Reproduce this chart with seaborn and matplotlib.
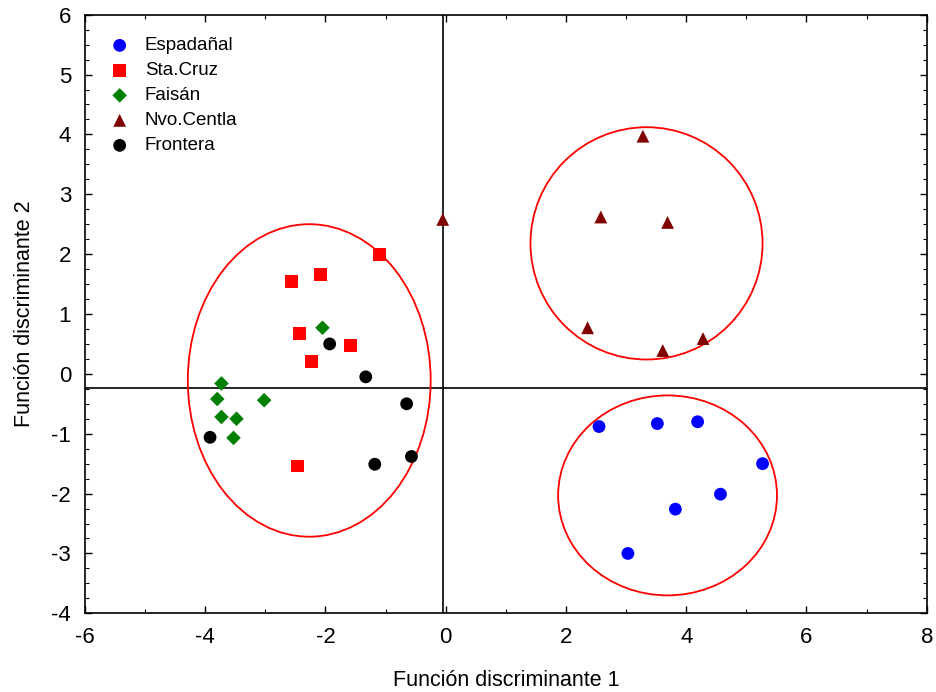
import matplotlib
matplotlib.use("Agg")
import matplotlib.pyplot as plt
from matplotlib.patches import Ellipse
from matplotlib.ticker import MultipleLocator
import seaborn as sns
import pandas as pd

# ---- data ----
groups = ["Espadañal", "Sta.Cruz", "Faisán", "Nvo.Centla", "Frontera"]

esp_x = [2.55, 3.52, 4.19, 5.27, 4.57, 3.82, 3.03]
esp_y = [-0.88, -0.83, -0.80, -1.50, -2.01, -2.26, -3.00]

stc_x = [-1.10, -2.08, -2.56, -2.43, -1.58, -2.23, -2.46]
stc_y = [2.00, 1.66, 1.54, 0.68, 0.48, 0.20, -1.54]

fai_x = [-2.05, -3.73, -3.80, -3.02, -3.73, -3.48, -3.53]
fai_y = [0.77, -0.16, -0.42, -0.44, -0.72, -0.75, -1.07]

nvo_x = [3.28, 2.58, 3.69, 2.36, 3.61, 4.28, -0.05]
nvo_y = [3.97, 2.62, 2.53, 0.77, 0.39, 0.59, 2.58]

fro_x = [-1.93, -1.33, -0.65, -3.92, -1.18, -0.57]
fro_y = [0.50, -0.05, -0.50, -1.06, -1.51, -1.38]

# ellipse parameters: center x, center y, full width, full height
ell_cx = [-2.27, 3.34, 3.69]
ell_cy = [-0.11, 2.18, -2.03]
ell_w = [4.04, 3.86, 3.64]
ell_h = [5.22, 3.88, 3.34]

cross_x = -0.05
cross_y = -0.24

colors = {"Espadañal": "#0000ff", "Sta.Cruz": "#ff0000", "Faisán": "#008000",
          "Nvo.Centla": "#800000", "Frontera": "#000000"}
markers = {"Espadañal": "o", "Sta.Cruz": "s", "Faisán": "D",
           "Nvo.Centla": "^", "Frontera": "o"}
sizes = {"Espadañal": 85, "Sta.Cruz": 85, "Faisán": 55,
         "Nvo.Centla": 85, "Frontera": 85}

xs = [esp_x, stc_x, fai_x, nvo_x, fro_x]
ys = [esp_y, stc_y, fai_y, nvo_y, fro_y]
rows = []
for g, gx, gy in zip(groups, xs, ys):
    for a, b in zip(gx, gy):
        rows.append({"x": a, "y": b, "grupo": g})
df = pd.DataFrame(rows)

sns.set_style("ticks")
plt.rcParams["font.family"] = ["Liberation Sans", "DejaVu Sans"]
plt.rcParams["axes.unicode_minus"] = False
plt.rcParams["text.color"] = "black"
plt.rcParams["axes.labelcolor"] = "black"
plt.rcParams["xtick.color"] = "black"
plt.rcParams["ytick.color"] = "black"

fig = plt.figure(figsize=(9.37, 6.92), dpi=100)
ax = fig.add_axes([0.0907, 0.1137, 0.8983, 0.8651])

for g in groups:
    sub = df[df["grupo"] == g]
    sns.scatterplot(data=sub, x="x", y="y", ax=ax, color=colors[g],
                    marker=markers[g], s=sizes[g], edgecolor="none",
                    label=g, zorder=3)

for cx, cy, w, h in zip(ell_cx, ell_cy, ell_w, ell_h):
    ax.add_patch(Ellipse((cx, cy), w, h, fill=False, edgecolor="#ff0000",
                         linewidth=1.3, zorder=2))

ax.axvline(cross_x, color="black", linewidth=1.2, zorder=1)
ax.axhline(cross_y, color="black", linewidth=1.2, zorder=1)

ax.set_xlim(-6, 8)
ax.set_ylim(-4, 6)
ax.xaxis.set_major_locator(MultipleLocator(2))
ax.xaxis.set_minor_locator(MultipleLocator(1))
ax.yaxis.set_major_locator(MultipleLocator(1))
ax.yaxis.set_minor_locator(MultipleLocator(0.25))
ax.tick_params(which="major", direction="in", length=5, width=1,
               labelsize=16, pad=10, top=True, right=True,
               color="black", labelcolor="black")
ax.tick_params(which="minor", direction="in", length=3, width=0.8,
               top=True, right=True, color="black")
for sp in ax.spines.values():
    sp.set_linewidth(1.2)
    sp.set_color("black")

ax.set_xlabel("Función discriminante 1", fontsize=15.5, labelpad=16,
              color="black")
ax.set_ylabel("Función discriminante 2", fontsize=15.5, labelpad=12,
              color="black")

leg = ax.legend(loc="upper left", frameon=False, fontsize=13.5,
                handletextpad=0.7, labelspacing=0.42,
                borderaxespad=0.8, handlelength=1.3)
for t in leg.get_texts():
    t.set_color("black")

fig.savefig("out.png", dpi=100)
